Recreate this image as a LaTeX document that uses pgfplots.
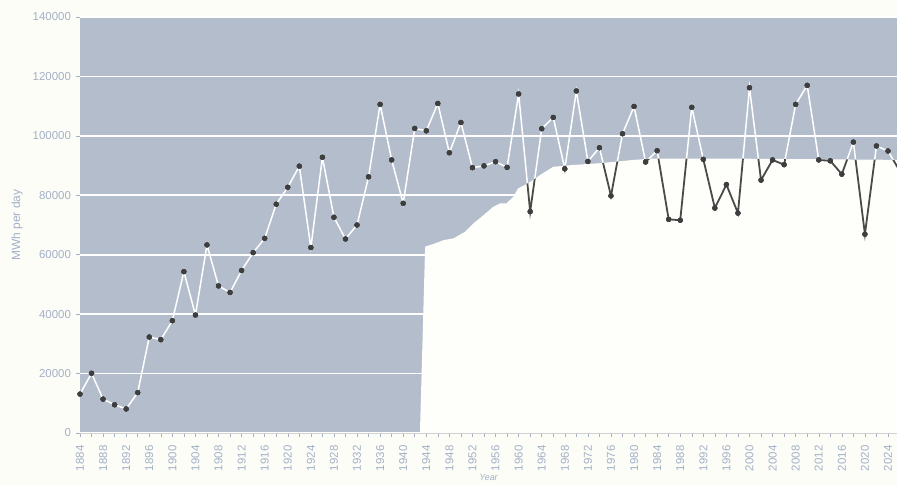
\documentclass[border=0pt]{standalone}
\usepackage{fontspec}
\setmainfont{Liberation Sans}
\usepackage{pgfplots}
\usepackage{pgfplotstable}
\pgfplotsset{compat=1.18}
\definecolor{bgblue}{HTML}{B3BDCC}
\definecolor{paper}{HTML}{FDFDF8}
\definecolor{areaw}{HTML}{FEFEFA}
\definecolor{lab}{HTML}{A3B0C6}
\definecolor{mk}{HTML}{3E3E3E}
\definecolor{dk}{HTML}{4A4A4A}

\pgfplotstableread{
year value
1884 13100
1886 20100
1888 11400
1890 9500
1892 8100
1894 13600
1896 32300
1898 31400
1900 37800
1902 54300
1904 39700
1906 63300
1908 49500
1910 47300
1912 54700
1914 60700
1916 65500
1918 77000
1920 82700
1922 89800
1924 62400
1926 92800
1928 72600
1930 65300
1932 70000
1934 86200
1936 110600
1938 91900
1940 77300
1942 102500
1944 101700
1946 110900
1948 94300
1950 104500
1952 89300
1954 89900
1956 91300
1958 89400
1960 114100
1962 74500
1964 102400
1966 106200
1968 88900
1970 115100
1972 91400
1974 96000
1976 79800
1978 100700
1980 109900
1982 91200
1984 95000
1986 71900
1988 71600
1990 109600
1992 92100
1994 75700
1996 83600
1998 74000
2000 116200
2002 85100
2004 91900
2006 90300
2008 110600
2010 117000
2012 91900
2014 91600
2016 87100
2018 97900
2020 66900
2022 96600
2024 94900
2026 88300
}\maindata

\def\areacoords{(1942.9,0) (1943.8,62700) (1945.2,63600) (1947.0,64900) (1948.7,65500) (1950.7,67700) (1952.2,70600) (1953.6,72800) (1955.6,76100) (1956.8,77300) (1957.9,77300) (1959.1,79500) (1959.9,82300) (1961.1,83500) (1962.5,85100) (1963.7,86800) (1966.0,89600) (1969.5,90200) (1974.1,90800) (1979.9,91900) (1982.8,92300) (2000,92300) (2027,91900) (2027,0)}

\begin{document}
\begin{tikzpicture}
\fill[paper] (-80bp,-52bp) rectangle (817bp,433bp);
\path[use as bounding box] (-80bp,-52bp) rectangle (817bp,433bp);
\begin{axis}[
  scale only axis, width=817bp, height=416bp,
  at={(0,0)}, anchor=south west,
  xmin=1884, xmax=2025.56, ymin=0, ymax=140000,
  axis background/.style={fill=bgblue},
  axis x line*=bottom, axis y line*=left,
  x axis line style={draw=gray!35, line width=0.6bp, -},
  y axis line style={draw=none},
  xtick={1884,1888,...,2024},
  minor xtick={1886,1890,...,2026},
  ytick={0,20000,...,140000},
  tick align=outside,
  major tick length=4bp, minor tick length=4bp,
  tick style={draw=lab, line width=0.5bp},
  ymajorgrids,
  major grid style={draw=white, line width=1.6bp},
  scaled ticks=false,
  scaled x ticks=false, scaled y ticks=false,
  /pgf/number format/fixed,
  /pgf/number format/precision=0,
  /pgf/number format/1000 sep={},
  /pgf/number format/assume math mode=true,
  yticklabel shift=1.5bp,
  xticklabel style={yshift=-5bp, rotate=90, anchor=east, font=\fontsize{11.5}{12}\selectfont, text=lab},
  yticklabel style={font=\fontsize{11.5}{12}\selectfont, text=lab},
  xlabel={\itshape Year},
  ylabel={MWh per day},
  every axis x label/.style={at={(axis description cs:0.5,-0.106)}, anchor=center, font=\fontsize{9}{10}\selectfont, text=lab},
  every axis y label/.style={at={(axis description cs:-0.0771,0.5)}, rotate=90, anchor=center, font=\fontsize{12}{13}\selectfont, text=lab},
]
\edef\tmp{\noexpand\addplot[fill=areaw, draw=none] coordinates {\areacoords};}\tmp
\addplot[color=white, line width=1.5bp, mark=*, mark size=2.5bp, mark options={fill=mk, draw=mk, line width=0.3bp}] table[x=year, y=value] {\maindata};
\begin{scope}
\edef\tmp{\noexpand\clip plot coordinates {\areacoords};}\tmp
\addplot[color=dk, line width=1.8bp, mark=*, mark size=2.5bp, mark options={fill=mk, draw=mk, line width=0.3bp}] table[x=year, y=value] {\maindata};
\end{scope}
\end{axis}
\end{tikzpicture}
\end{document}
